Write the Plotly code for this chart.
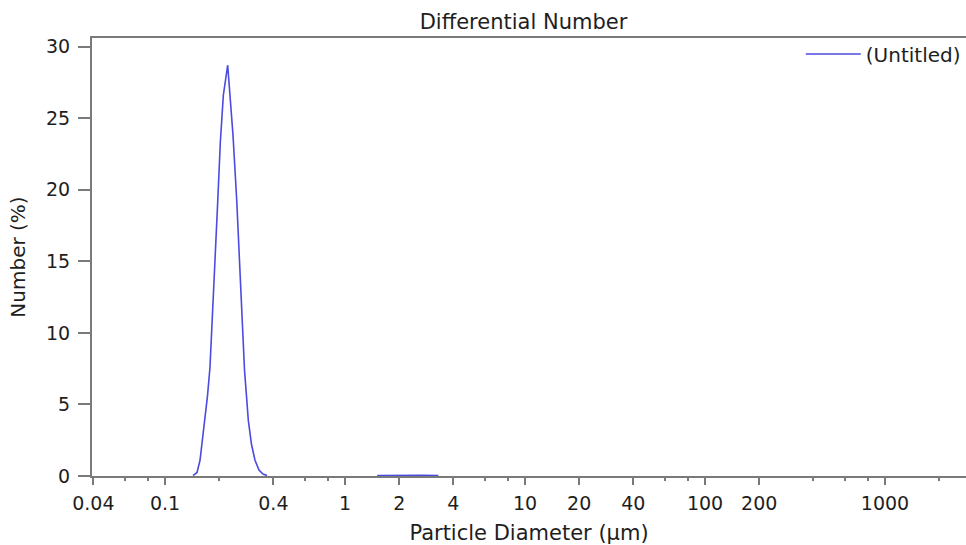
import plotly.graph_objects as go

# Particle diameters (µm) and differential number (%)
peak_diameter = [0.1431, 0.1506, 0.1565, 0.1616, 0.1668, 0.1722, 0.1778, 0.1855,
                 0.1915, 0.1965, 0.2029, 0.2109, 0.2230, 0.2297, 0.2387, 0.2502,
                 0.2577, 0.2644, 0.2723, 0.2765, 0.2836, 0.2902, 0.3024, 0.3162,
                 0.3328, 0.3503, 0.3687]
peak_number = [0.03, 0.25, 1.1, 2.5, 3.9, 5.6, 7.6, 12.3,
               15.8, 19.3, 23.3, 26.6, 28.7, 26.6, 23.8, 19.3,
               15.8, 12.3, 8.8, 7.4, 5.6, 3.9, 2.2, 1.1,
               0.42, 0.14, 0.03]
bump_diameter = [1.51, 1.8, 2.2, 2.7, 3.3]
bump_number = [0.03, 0.05, 0.06, 0.05, 0.03]

major_ticks = [0.04, 0.1, 0.4, 1, 2, 4, 10, 20, 40, 100, 200, 1000]
major_labels = ["0.04", "0.1", "0.4", "1", "2", "4", "10", "20", "40", "100", "200", "1000"]
minor_ticks = [0.06, 0.08, 0.2, 0.6, 0.8, 6, 8, 60, 80, 400, 600, 800, 2000]
y_ticks = [0, 5, 10, 15, 20, 25, 30]

x = peak_diameter + [None] + bump_diameter
y = peak_number + [None] + bump_number

FONT = "DejaVu Sans"
TXT = "#1e1e1e"
AX = "#7a7a7a"

fig = go.Figure()
fig.add_trace(go.Scatter(x=x, y=y, mode="lines", name="(Untitled)",
                         line=dict(color="#4b4be0", width=1.6),
                         connectgaps=False))

fig.update_layout(
    width=966, height=545,
    margin=dict(l=92, r=0, t=38, b=69, autoexpand=False),
    paper_bgcolor="white", plot_bgcolor="white",
    font=dict(family=FONT, color=TXT, size=19),
    title=dict(text="Differential Number", x=0.4937, xref="paper", xanchor="center",
               y=1 - 22 / 545, yref="container", yanchor="middle",
               font=dict(family=FONT, size=21, color=TXT)),
    showlegend=True,
    legend=dict(x=0.811, xanchor="left", y=1.008, yanchor="top", bgcolor="rgba(0,0,0,0)",
                font=dict(family=FONT, size=20, color=TXT), itemwidth=55),
)

fig.update_xaxes(
    type="log", range=[-1.4056, 3.45], automargin=True,
    tickvals=major_ticks, ticktext=major_labels,
    ticks="outside", ticklen=7, tickwidth=2, tickcolor=AX,
    ticklabelstandoff=2,
    minor=dict(tickvals=minor_ticks, ticks="outside", ticklen=3, tickwidth=2, tickcolor=AX),
    showline=True, linecolor=AX, linewidth=2, mirror=True,
    showgrid=False, zeroline=False,
    tickfont=dict(family=FONT, size=19, color=TXT),
    title=dict(text="Particle Diameter (µm)", standoff=24,
               font=dict(family=FONT, size=21, color=TXT)),
)
fig.update_yaxes(
    range=[0, 30.6], tickvals=y_ticks, automargin=True,
    ticks="outside", ticklen=12, tickwidth=2, tickcolor=AX,
    ticklabelstandoff=4,
    showline=True, linecolor=AX, linewidth=2, mirror=False,
    showgrid=False, zeroline=False,
    tickfont=dict(family=FONT, size=19, color=TXT),
    title=dict(text="Number (%)", standoff=15,
               font=dict(family=FONT, size=20, color=TXT)),
)

fig.write_html("out.html", config={"displayModeBar": False},
               post_script="document.body.style.margin='0';document.body.style.overflow='hidden';")
